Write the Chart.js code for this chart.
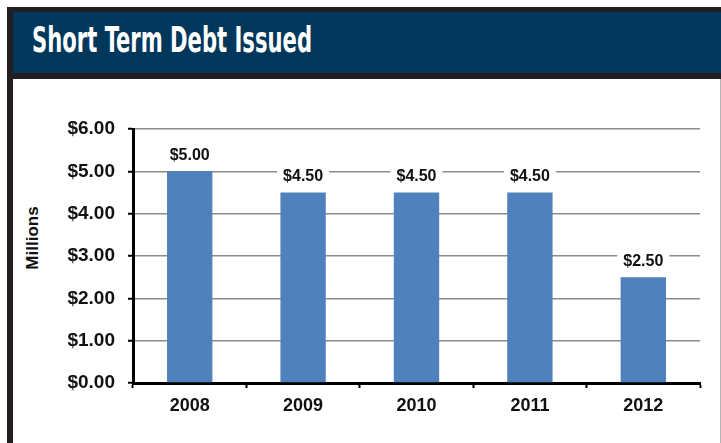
<!DOCTYPE html>
<html>
<head>
<meta charset="utf-8">
<script src="https://cdn.jsdelivr.net/npm/chart.js@4"></script>
<style>
  body { margin: 0; width: 721px; height: 443px; position: relative; overflow: hidden; background: #fff; }
  .frame { position: absolute; background: #231f20; z-index: 2; }
  #title { position: absolute; left: 32px; top: 22px; color: #fff; font: bold 36px "DejaVu Sans Condensed", "DejaVu Sans", sans-serif; line-height: 36px; white-space: nowrap; transform-origin: 0 50%; z-index: 3; }
  #ytitle { position: absolute; left: 33px; top: 238px; transform: translate(-50%, -50%) rotate(-90deg); font: bold 17px "Liberation Sans", Arial, sans-serif; white-space: nowrap; color: #111; }
  #chart { position: absolute; left: 0; top: 79px; }
</style>
</head>
<body>
<div class="frame" style="left:7px;top:7px;width:714px;height:72px;"></div>
<div style="position:absolute;left:13px;top:12px;width:708px;height:61px;background:#01375a;z-index:2;"></div>
<div class="frame" style="left:7px;top:79px;width:6px;height:364px;"></div>
<div style="position:absolute;left:720px;top:79px;width:1px;height:364px;background:#b4b4b4;z-index:2;"></div>
<span id="title">Short Term Debt Issued</span>
<div id="ytitle">Millions</div>
<canvas id="chart" width="721" height="364"></canvas>
<script>
const years = ["2008", "2009", "2010", "2011", "2012"];
const amounts = [5.0, 4.5, 4.5, 4.5, 2.5];
const yTicks = [0, 1, 2, 3, 4, 5, 6];

// squeeze the title into the condensed width of the original
const t = document.getElementById("title");
t.style.transform = "scaleX(" + (280 / t.getBoundingClientRect().width) + ")";

const valueLabels = {
  id: "valueLabels",
  afterDatasetsDraw(chart) {
    const ctx = chart.ctx;
    const meta = chart.getDatasetMeta(0);
    ctx.save();
    ctx.font = 'bold 16px "Liberation Sans", Arial, sans-serif';
    ctx.textAlign = "center";
    ctx.textBaseline = "middle";
    meta.data.forEach((bar, i) => {
      const txt = "$" + amounts[i].toFixed(2);
      const w = ctx.measureText(txt).width + 12;
      const y = bar.y - 16;
      ctx.fillStyle = "#fff";
      ctx.fillRect(bar.x - w / 2, y - 9, w, 18);
      ctx.fillStyle = "#111";
      ctx.fillText(txt, bar.x, y);
    });
    ctx.restore();
  }
};

new Chart(document.getElementById("chart"), {
  type: "bar",
  data: {
    labels: years,
    datasets: [{
      data: amounts,
      backgroundColor: "#4f81bd",
      barPercentage: 0.4,
      categoryPercentage: 1
    }]
  },
  options: {
    responsive: false,
    animation: false,
    layout: { padding: { left: 0, right: 21, top: 50, bottom: 20 } },
    plugins: { legend: { display: false }, tooltip: { enabled: false } },
    scales: {
      x: {
        grid: { display: true, drawOnChartArea: false, tickLength: 5, tickColor: "#000", tickWidth: 2 },
        border: { color: "#000", width: 3 },
        ticks: { color: "#111", padding: 7, font: { family: '"Liberation Sans", Arial, sans-serif', size: 18, weight: "bold" } },
        afterFit: (s) => { s.height = 40; }
      },
      y: {
        min: 0,
        max: 6,
        afterBuildTicks: (s) => { s.ticks = yTicks.map((v) => ({ value: v })); },
        grid: { color: "#8c8c8c", lineWidth: 1.5, tickLength: 5, tickColor: "#000", tickWidth: 2 },
        border: { color: "#000", width: 3 },
        ticks: {
          color: "#111",
          padding: 13,
          font: { family: '"Liberation Sans", Arial, sans-serif', size: 19, weight: "bold" },
          callback: (v) => "$" + Number(v).toFixed(2)
        },
        afterFit: (s) => { s.width = 133; }
      }
    }
  },
  plugins: [valueLabels]
});
</script>
</body>
</html>
